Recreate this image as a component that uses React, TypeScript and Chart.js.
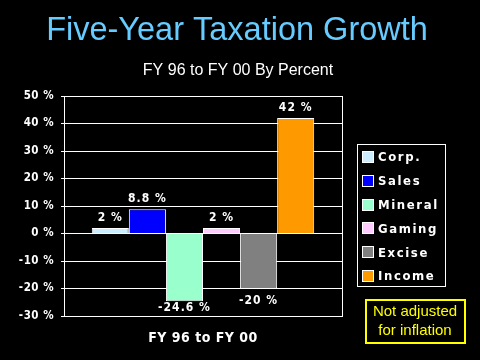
import React, { useEffect, useRef } from "react";
import { Chart, registerables } from "chart.js";

Chart.register(...registerables);

const categories = ["FY 96 to FY 00"];
const seriesNames = ["Corp.", "Sales", "Mineral", "Gaming", "Excise", "Income"];
const seriesValues = [2, 8.8, -24.6, 2, -20, 42];
const seriesColors = ["#CCECFF", "#0000FF", "#99FFCC", "#FFCCFF", "#808080", "#FF9900"];
const yMin = -30;
const yMax = 50;
const yStep = 10;
const titleText = "Five-Year Taxation Growth";
const subtitleText = "FY 96 to FY 00 By Percent";
const noteLines = ["Not adjusted", "for inflation"];

const BOLD = "'DejaVu Sans Condensed', 'Liberation Sans', Arial, sans-serif";
const REG = "'Liberation Sans', Arial, sans-serif";

const decorPlugin = {
  id: "decor",
  beforeDraw(chart: any) {
    const ctx = chart.ctx;
    ctx.save();
    ctx.fillStyle = "#000000";
    ctx.fillRect(0, 0, chart.width, chart.height);
    ctx.restore();
    (ctx as any).letterSpacing = "0.5px";
  },
  afterDraw(chart: any) {
    const ctx = chart.ctx;
    const ca = chart.chartArea;
    ctx.save();
    ctx.strokeStyle = "#FFFFFF";
    ctx.lineWidth = 1;
    ctx.beginPath();
    ctx.moveTo(Math.round(ca.right) + 0.5, ca.top);
    ctx.lineTo(Math.round(ca.right) + 0.5, ca.bottom);
    ctx.stroke();

    (ctx as any).letterSpacing = "0px";
    ctx.textAlign = "center";
    ctx.textBaseline = "middle";
    ctx.fillStyle = "#66CCFF";
    ctx.font = `32.5px ${REG}`;
    ctx.fillText(titleText, 237, 31);
    ctx.fillStyle = "#FFFFFF";
    ctx.font = `16px ${REG}`;
    ctx.fillText(subtitleText, 238, 71);

    (ctx as any).letterSpacing = "1px";
    ctx.font = `bold 12px ${BOLD}`;
    ctx.fillStyle = "#FFFFFF";
    chart.data.datasets.forEach((ds: any, i: number) => {
      const meta = chart.getDatasetMeta(i);
      meta.data.forEach((bar: any, j: number) => {
        const v = ds.data[j];
        const txt = `${v} %`;
        let y;
        if (v >= 0) y = bar.y - 10.5;
        else y = Math.min(bar.y + 12, ca.bottom - 8);
        ctx.fillText(txt, bar.x, y);
      });
    });

    const lx = 357, ly = 144, lw = 88, lh = 142;
    ctx.strokeStyle = "#FFFFFF";
    ctx.strokeRect(lx + 0.5, ly + 0.5, lw, lh);
    ctx.textAlign = "left";
    ctx.font = `bold 13px ${BOLD}`;
    (ctx as any).letterSpacing = "1.6px";
    chart.data.datasets.forEach((ds: any, i: number) => {
      const cy = 157 + i * 23.8;
      ctx.fillStyle = ds.backgroundColor;
      ctx.fillRect(362, Math.round(cy - 6), 12, 12);
      ctx.strokeStyle = "#FFFFFF";
      ctx.strokeRect(362.5, Math.round(cy - 6) + 0.5, 11, 11);
      ctx.fillStyle = "#FFFFFF";
      ctx.fillText(ds.label, 378, cy + 1);
    });

    (ctx as any).letterSpacing = "0px";
    ctx.strokeStyle = "#FFFF00";
    ctx.lineWidth = 2;
    ctx.strokeRect(366, 300, 99, 43);
    ctx.fillStyle = "#FFFF00";
    ctx.textAlign = "center";
    ctx.font = `15px ${REG}`;
    ctx.fillText(noteLines[0], 415, 312);
    ctx.fillText(noteLines[1], 415, 331);
    ctx.restore();
  },
};

export default function App() {
  const ref = useRef<HTMLCanvasElement>(null);
  useEffect(() => {
    document.body.style.margin = "0";
    document.body.style.background = "#000";
    const chart = new Chart(ref.current as HTMLCanvasElement, {
      type: "bar",
      data: {
        labels: categories,
        datasets: seriesNames.map((name, i) => ({
          label: name,
          data: [seriesValues[i]],
          backgroundColor: seriesColors[i],
          borderColor: "#FFFFFF",
          borderWidth: 1,
          categoryPercentage: 0.8,
          barPercentage: 1,
        })),
      },
      options: {
        responsive: false,
        animation: false,
        layout: { padding: { top: 96, right: 138, left: 0, bottom: 0 } },
        plugins: { legend: { display: false }, title: { display: false }, tooltip: { enabled: false } },
        scales: {
          x: {
            grid: { display: false },
            border: { display: true, color: "#FFFFFF", width: 1 },
            ticks: { color: "#FFFFFF", font: { family: BOLD, size: 14, weight: "bold" }, padding: 6 },
            afterFit: (s: any) => { s.height = 44; },
          },
          y: {
            min: yMin,
            max: yMax,
            ticks: {
              stepSize: yStep,
              color: "#FFFFFF",
              font: { family: BOLD, size: 11.5, weight: "bold" },
              padding: 7,
              callback: (v: any) => `${v} %`,
            },
            grid: { color: "#FFFFFF", lineWidth: 1, tickLength: 3, tickColor: "#FFFFFF" },
            border: { display: true, color: "#FFFFFF", width: 1 },
            afterFit: (s: any) => { s.width = 64; },
          },
        },
      },
      plugins: [decorPlugin],
    } as any);
    return () => chart.destroy();
  }, []);
  return (
    <div style={{ position: "absolute", left: 0, top: 0, width: 480, height: 360, background: "#000" }}>
      <canvas ref={ref} width={480} height={360} />
    </div>
  );
}
